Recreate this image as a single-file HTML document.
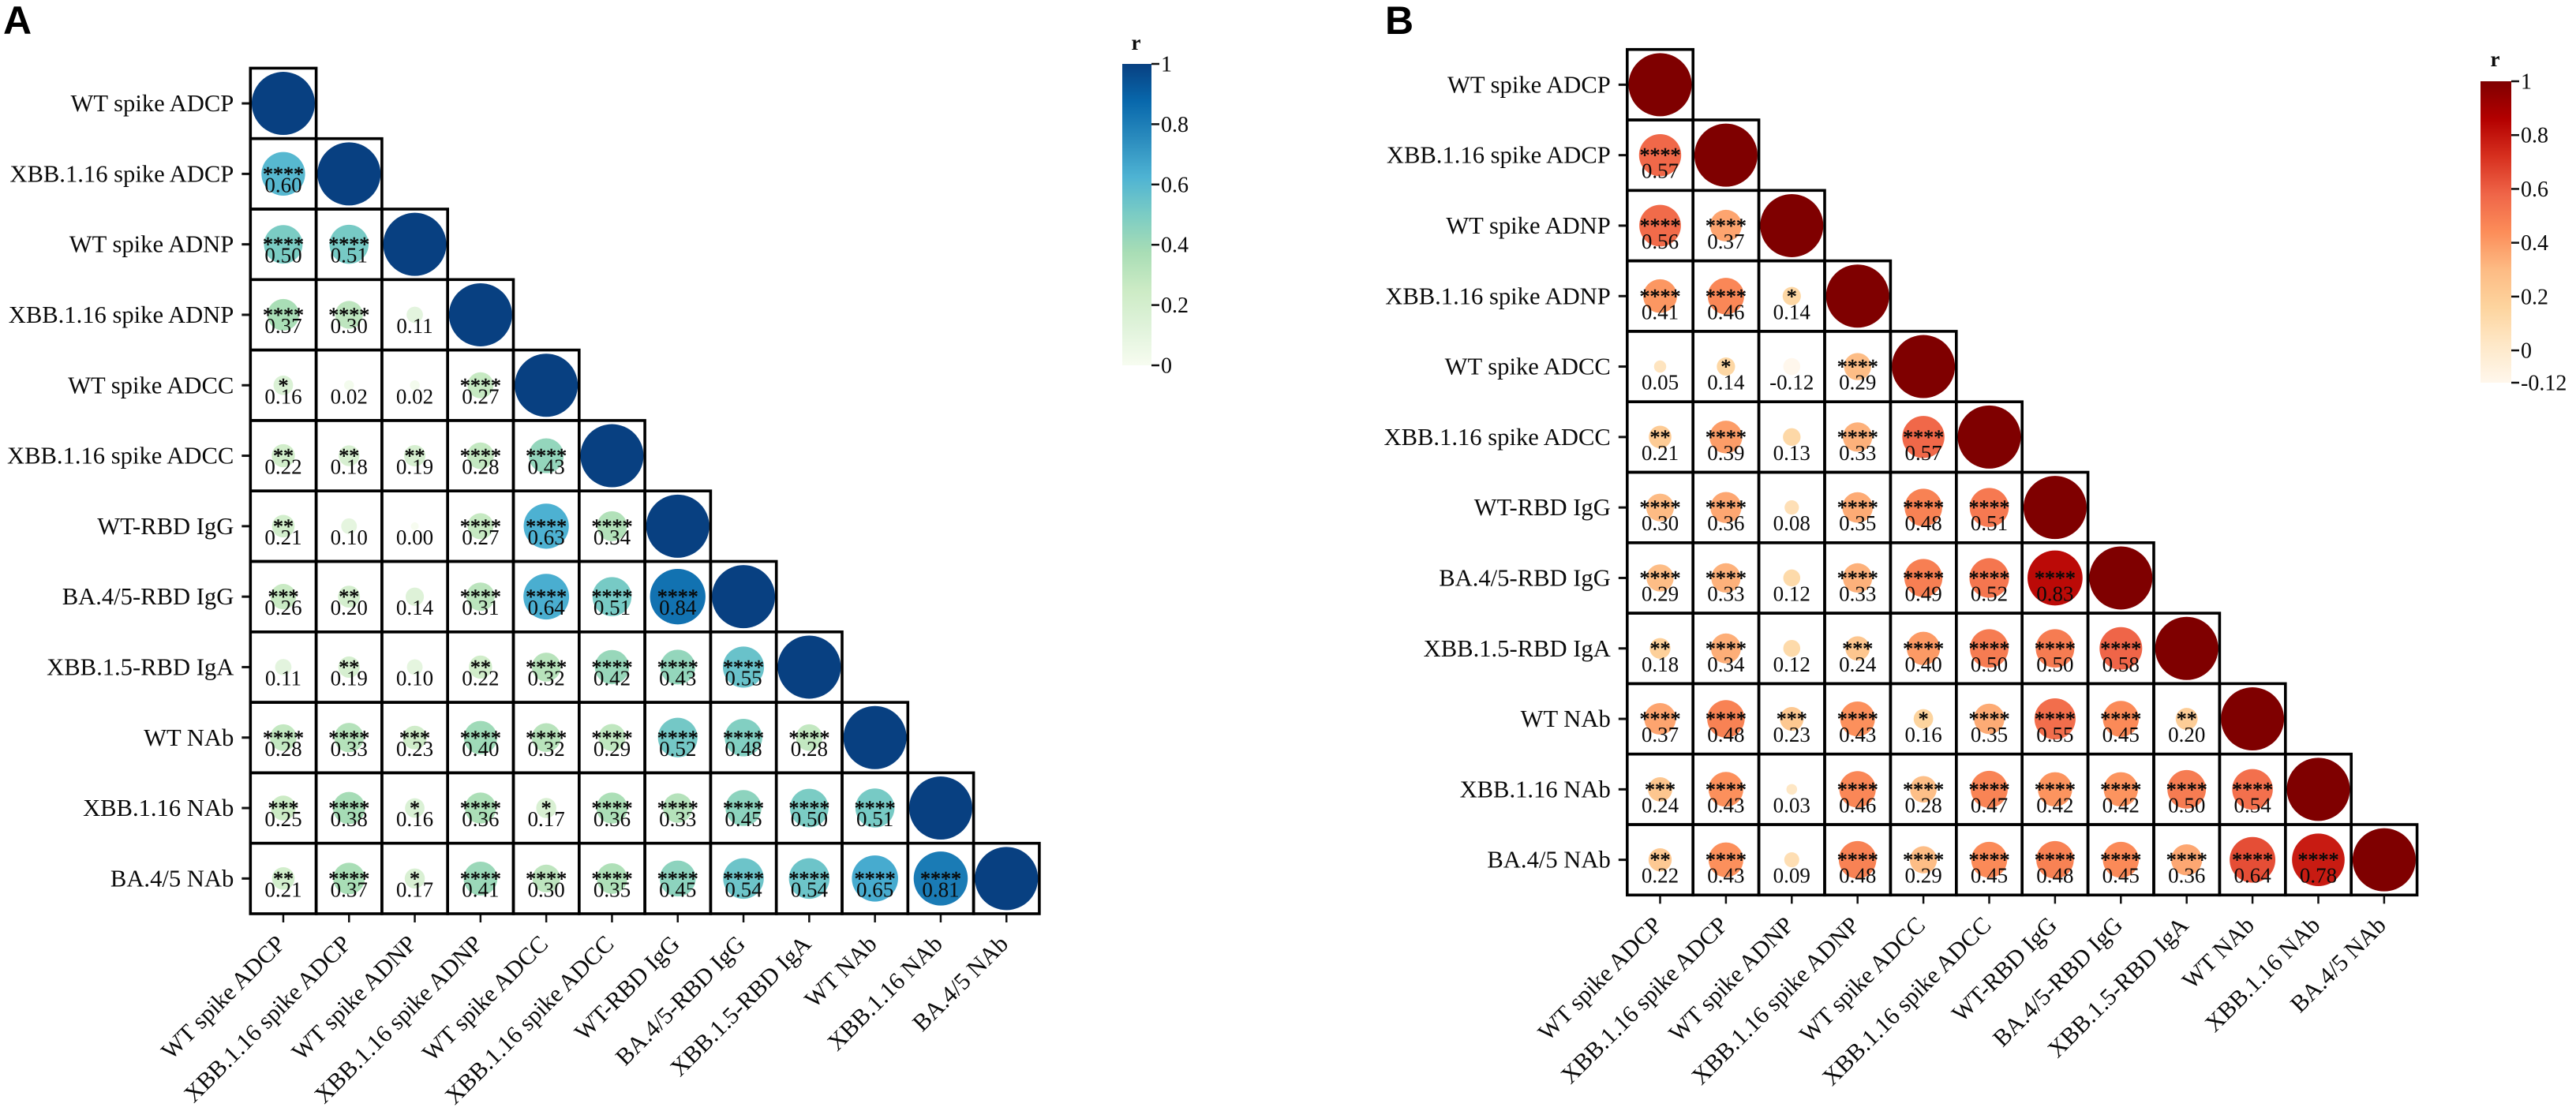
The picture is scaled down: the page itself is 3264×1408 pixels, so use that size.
<!DOCTYPE html>
<html lang="en">
<head>
<meta charset="utf-8">
<title>Correlation matrices</title>
<style>
html,body{margin:0;padding:0;background:#fff;}
svg{display:block;}
text{font-family:"Liberation Serif",serif;fill:#0a0a0a;}
.panel-letter{font-family:"Liberation Sans",sans-serif;font-weight:700;fill:#000;}
</style>
</head>
<body>
<svg id="figure" xmlns="http://www.w3.org/2000/svg" width="3264" height="1408" viewBox="0 0 3264 1408">
  <rect width="3264" height="1408" fill="#fff"/>
  <defs>
    <linearGradient id="grad-a" x1="0" y1="1" x2="0" y2="0"></linearGradient>
    <linearGradient id="grad-b" x1="0" y1="1" x2="0" y2="0"></linearGradient>
  </defs>
  <text class="panel-letter" x="4" y="43" font-size="50">A</text>
  <text class="panel-letter" x="1755" y="43" font-size="50">B</text>
</svg>
<script>
const categories = ["WT spike ADCP","XBB.1.16 spike ADCP","WT spike ADNP","XBB.1.16 spike ADNP","WT spike ADCC","XBB.1.16 spike ADCC","WT-RBD IgG","BA.4/5-RBD IgG","XBB.1.5-RBD IgA","WT NAb","XBB.1.16 NAb","BA.4/5 NAb"];

const valuesA = [
 [1],
 [0.60,1],
 [0.50,0.51,1],
 [0.37,0.30,0.11,1],
 [0.16,0.02,0.02,0.27,1],
 [0.22,0.18,0.19,0.28,0.43,1],
 [0.21,0.10,0.00,0.27,0.63,0.34,1],
 [0.26,0.20,0.14,0.31,0.64,0.51,0.84,1],
 [0.11,0.19,0.10,0.22,0.32,0.42,0.43,0.55,1],
 [0.28,0.33,0.23,0.40,0.32,0.29,0.52,0.48,0.28,1],
 [0.25,0.38,0.16,0.36,0.17,0.36,0.33,0.45,0.50,0.51,1],
 [0.21,0.37,0.17,0.41,0.30,0.35,0.45,0.54,0.54,0.65,0.81,1]
];
const starsA = [
 [0],
 [4,0],
 [4,4,0],
 [4,4,0,0],
 [1,0,0,4,0],
 [2,2,2,4,4,0],
 [2,0,0,4,4,4,0],
 [3,2,0,4,4,4,4,0],
 [0,2,0,2,4,4,4,4,0],
 [4,4,3,4,4,4,4,4,4,0],
 [3,4,1,4,1,4,4,4,4,4,0],
 [2,4,1,4,4,4,4,4,4,4,4,0]
];
const valuesB = [
 [1],
 [0.57,1],
 [0.56,0.37,1],
 [0.41,0.46,0.14,1],
 [0.05,0.14,-0.12,0.29,1],
 [0.21,0.39,0.13,0.33,0.57,1],
 [0.30,0.36,0.08,0.35,0.48,0.51,1],
 [0.29,0.33,0.12,0.33,0.49,0.52,0.83,1],
 [0.18,0.34,0.12,0.24,0.40,0.50,0.50,0.58,1],
 [0.37,0.48,0.23,0.43,0.16,0.35,0.55,0.45,0.20,1],
 [0.24,0.43,0.03,0.46,0.28,0.47,0.42,0.42,0.50,0.54,1],
 [0.22,0.43,0.09,0.48,0.29,0.45,0.48,0.45,0.36,0.64,0.78,1]
];
const starsB = [
 [0],
 [4,0],
 [4,4,0],
 [4,4,1,0],
 [0,1,0,4,0],
 [2,4,0,4,4,0],
 [4,4,0,4,4,4,0],
 [4,4,0,4,4,4,4,0],
 [2,4,0,3,4,4,4,4,0],
 [4,4,3,4,1,4,4,4,2,0],
 [3,4,0,4,4,4,4,4,4,4,0],
 [2,4,0,4,4,4,4,4,4,4,4,0]
];
const colorbarTicksA = [1,0.8,0.6,0.4,0.2,0];
const colorbarTicksB = [1,0.8,0.6,0.4,0.2,0,-0.12];
const paletteA = ["#f7fcf0","#e0f3db","#ccebc5","#a8ddb5","#7bccc4","#4eb3d3","#2b8cbe","#0868ac","#084081"];
const paletteB = ["#fff7ec","#fee8c8","#fdd49e","#fdbb84","#fc8d59","#ef6548","#d7301f","#b30000","#7f0000"];

const NS = "http://www.w3.org/2000/svg";
const svg = document.getElementById("figure");

function mk(tag, attrs, parent) {
  const el = document.createElementNS(NS, tag);
  for (const k in attrs) el.setAttribute(k, attrs[k]);
  (parent || svg).appendChild(el);
  return el;
}
function hexToRgb(h) {
  return [parseInt(h.slice(1,3),16), parseInt(h.slice(3,5),16), parseInt(h.slice(5,7),16)];
}
function colorAt(palette, t) {
  const c = Math.max(0, Math.min(1, t)) * (palette.length - 1);
  const i = Math.min(Math.floor(c), palette.length - 2);
  const f = c - i;
  const a = hexToRgb(palette[i]), b = hexToRgb(palette[i + 1]);
  return "rgb(" + a.map(function (v, k) { return Math.round(v + (b[k] - v) * f); }).join(",") + ")";
}
function radiusFor(r, maxDiameter) {
  const m = Math.min(1, Math.abs(r));
  const d = 10 + (maxDiameter - 10) * Math.pow(m, 0.85);
  return d / 2;
}
function fillGradient(id, palette) {
  const g = document.getElementById(id);
  palette.forEach(function (c, i) {
    mk("stop", { offset: (i / (palette.length - 1)), "stop-color": c }, g);
  });
}

function drawPanel(cfg) {
  const n = categories.length;
  const xScale = function (col) { return cfg.left + cfg.cellW * (col + 0.5); };
  const yScale = function (row) { return cfg.top + cfg.cellH * (row + 0.5); };
  const domainMin = cfg.domain[0], domainMax = cfg.domain[1];
  const colorScale = function (v) { return colorAt(cfg.palette, (v - domainMin) / (domainMax - domainMin)); };

  const group = mk("g", {});
  
  

  // y axis
  categories.forEach(function (label, row) {
    const tick = mk("line", { x1: cfg.left - 11, x2: cfg.left, y1: yScale(row), y2: yScale(row), stroke: "#111", "stroke-width": 3 }, group);
    
    
    const t = mk("text", { x: cfg.left - 21, y: yScale(row) + 10, "text-anchor": "end", "font-size": 30.6 }, group);
    t.textContent = label;
    
    
  });
  // x axis
  categories.forEach(function (label, col) {
    const bottom = cfg.top + cfg.cellH * n;
    const tick = mk("line", { x1: xScale(col), x2: xScale(col), y1: bottom, y2: bottom + 11, stroke: "#111", "stroke-width": 2.5 }, group);
    
    
    const ax = xScale(col) + 4, ay = bottom + 40;
    const t = mk("text", { x: ax, y: ay, "text-anchor": "end", "font-size": 30.6, transform: "rotate(-45 " + ax + " " + ay + ")" }, group);
    t.textContent = label;
    
    
  });

  // cells
  cfg.values.forEach(function (rowVals, row) {
    rowVals.forEach(function (v, col) {
      const cell = mk("rect", { x: xScale(col) - cfg.cellW / 2, y: yScale(row) - cfg.cellH / 2, width: cfg.cellW, height: cfg.cellH, fill: "#fff" }, group);
      
      
      const dot = mk("circle", { cx: xScale(col), cy: yScale(row), r: radiusFor(v, 80), fill: colorScale(v) }, group);
      
      
    });
  });
  // borders above the dots
  cfg.values.forEach(function (rowVals, row) {
    rowVals.forEach(function (v, col) {
      const border = mk("rect", { x: xScale(col) - cfg.cellW / 2, y: yScale(row) - cfg.cellH / 2, width: cfg.cellW, height: cfg.cellH, fill: "none", stroke: "#000", "stroke-width": 3.6 }, group);
      
      
    });
  });
  // printed values and significance
  cfg.values.forEach(function (rowVals, row) {
    rowVals.forEach(function (v, col) {
      if (col === row) return;
      const stars = cfg.stars[row][col];
      if (stars > 0) {
        const s = mk("text", { x: xScale(col), y: yScale(row) + cfg.starDy, "text-anchor": "middle", "font-size": 26, stroke: "#0a0a0a", "stroke-width": 0.5 }, group);
        s.textContent = "*".repeat(stars);
        
        
      }
      const t = mk("text", { x: xScale(col), y: yScale(row) + cfg.valueDy, "text-anchor": "middle", "font-size": 27 }, group);
      t.textContent = v.toFixed(2);
      
      
    });
  });

  // colorbar
  fillGradient(cfg.gradient, cfg.palette);
  const barScale = function (v) { return cfg.barBottom - (v - domainMin) / (domainMax - domainMin) * (cfg.barBottom - cfg.barTop); };
  const cb = mk("g", {});
  
  
  const bar = mk("rect", { x: cfg.barX, y: cfg.barTop, width: cfg.barW, height: cfg.barBottom - cfg.barTop, fill: "url(#" + cfg.gradient + ")" }, cb);
  
  
  const title = mk("text", { x: cfg.barX + cfg.barW / 2 - 1, y: cfg.barTop - cfg.titleGap, "text-anchor": "middle", "font-size": 27, "font-weight": 700 }, cb);
  title.textContent = "r";
  
  
  cfg.barTicks.forEach(function (v) {
    const y = barScale(v);
    const tick = mk("line", { x1: cfg.barX + cfg.barW, x2: cfg.barX + cfg.barW + 10, y1: y, y2: y, stroke: "#111", "stroke-width": 2.5 }, cb);
    
    
    const t = mk("text", { x: cfg.barX + cfg.barW + 12, y: y + 9.5, "font-size": 28 }, cb);
    t.textContent = String(v);
    
    
  });
}

drawPanel({
  name: "panel-a", left: 317.3, top: 86.4, cellW: 83.3, cellH: 89.3,
  values: valuesA, stars: starsA, palette: paletteA, domain: [0, 1],
  gradient: "grad-a", barX: 1422, barW: 37, barTop: 81, barBottom: 463,
  barTicks: colorbarTicksA, titleGap: 18, starDy: 9, valueDy: 23
});
drawPanel({
  name: "panel-b", left: 2061.8, top: 62.7, cellW: 83.4, cellH: 89.3,
  values: valuesB, stars: starsB, palette: paletteB, domain: [-0.12, 1],
  gradient: "grad-b", barX: 3143, barW: 39, barTop: 103, barBottom: 485,
  barTicks: colorbarTicksB, titleGap: 19, starDy: 9, valueDy: 29
});
</script>
</body>
</html>
